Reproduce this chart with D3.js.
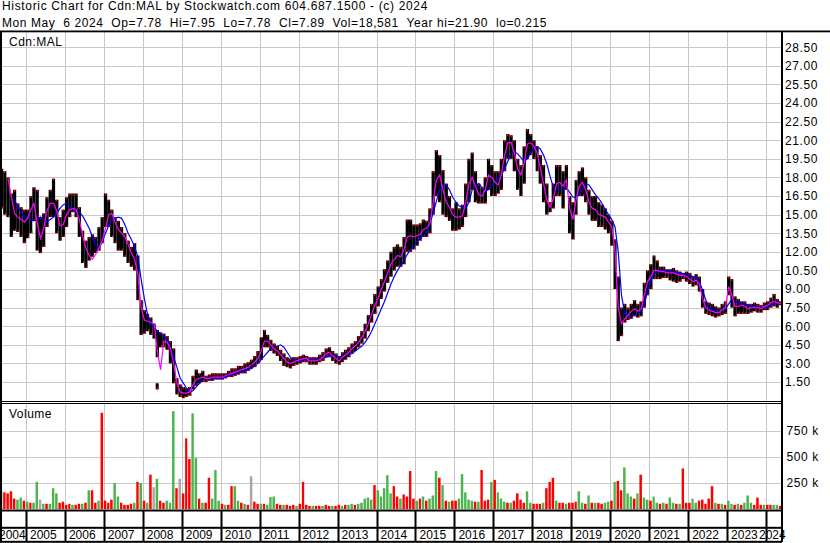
<!DOCTYPE html>
<html><head><meta charset="utf-8">
<script src="https://cdn.jsdelivr.net/npm/d3@7"></script>
<style>
body{margin:0;background:#fff;}
svg{display:block;}
text{font-family:"Liberation Sans",Arial,sans-serif;font-size:12px;fill:#000;}
</style>
</head><body>
<svg id="c" width="830" height="543"></svg>
<script>
// ---------------- DATA (monthly, starting May 2004) ----------------
const firstMonth = "2004-05";
const priceHigh = [
 18.7,18.5,18.0,16.7,17.0,15.9,15.6,15.4,
 15.4,16.5,17.2,17.0,14.8,15.1,16.4,17.0,17.9,16.2,14.8,15.4,
 16.4,16.7,16.7,16.7,15.6,13.7,12.9,13.2,13.4,13.2,14.0,14.8,
 16.7,16.2,15.4,14.8,14.5,14.0,13.5,12.9,12.4,12.7,11.7,8.1,
 7.3,7.0,6.7,6.2,5.7,5.5,5.4,5.2,4.8,4.2,1.8,1.3,
 1.1,1.0,1.1,2.0,2.5,2.2,2.4,2.0,2.1,2.2,2.2,2.2,
 2.2,2.2,2.4,2.6,2.6,2.8,2.8,3.0,3.1,3.3,3.6,4.0,
 5.1,5.7,5.3,4.9,4.6,4.4,4.1,3.8,3.5,3.4,3.5,3.5,
 3.6,3.7,3.6,3.5,3.5,3.5,3.7,3.9,4.2,4.3,4.0,3.8,
 3.6,3.9,4.1,4.3,4.6,4.8,5.2,5.6,6.2,6.9,7.8,8.6,
 9.2,9.8,10.6,11.3,12.0,12.4,12.6,12.4,13.2,14.6,14.6,14.2,
 14.2,14.3,14.6,14.5,15.5,18.5,20.2,19.8,18.6,17.5,16.5,15.5,
 16.0,15.5,15.8,17.5,19.5,20.0,18.5,17.5,17.2,18.0,19.5,19.0,
 18.5,18.5,19.5,21.0,21.5,21.4,21.0,19.5,19.0,20.5,21.9,21.5,
 21.0,20.5,19.8,19.0,17.5,16.0,17.5,19.0,19.0,18.5,19.0,16.5,
 16.0,17.8,18.5,18.8,18.0,17.0,16.5,16.5,16.0,15.8,15.5,15.0,
 14.5,13.0,10.0,7.5,7.8,7.5,7.8,8.1,7.8,8.0,9.5,10.5,
 11.0,11.7,11.3,10.8,10.8,10.6,10.6,10.7,10.5,10.4,10.3,10.4,
 10.3,10.0,10.2,10.0,9.0,8.0,7.9,7.8,7.6,7.5,7.8,8.0,
 10.0,9.8,8.4,8.2,8.0,8.0,7.8,7.8,7.9,7.8,7.7,7.9,
 8.0,8.3,8.6,8.2,8.0
];
const priceLow = [
 15.5,15.0,14.8,13.2,13.7,13.6,13.2,12.7,
 13.1,13.5,14.5,12.1,11.9,12.4,14.0,14.8,14.8,13.5,12.9,13.2,
 14.0,14.8,15.2,14.8,13.2,11.1,10.7,11.3,11.6,11.9,12.1,12.7,
 14.0,14.0,13.2,12.7,12.1,12.1,11.6,11.1,10.8,10.5,8.1,5.3,
 5.4,5.6,5.3,5.0,3.5,4.3,4.3,4.1,3.0,1.4,0.5,0.3,
 0.2,0.3,0.4,0.9,1.2,1.4,1.5,1.5,1.6,1.6,1.7,1.7,
 1.7,1.8,1.9,1.9,2.0,2.1,2.2,2.2,2.4,2.6,2.7,3.0,
 3.3,4.3,4.3,4.0,3.8,3.6,3.2,2.8,2.7,2.6,2.8,2.9,
 3.0,3.1,3.1,2.9,2.9,2.9,3.1,3.2,3.5,3.5,3.2,3.0,
 2.9,3.1,3.3,3.5,3.8,4.0,4.3,4.6,5.0,5.6,6.3,7.0,
 7.6,8.2,8.8,9.5,10.0,10.5,10.8,10.8,11.0,12.0,12.0,12.2,
 12.5,12.9,13.2,13.2,13.5,15.0,16.5,16.0,15.0,14.8,14.5,13.7,
 13.7,13.8,14.0,14.8,16.0,17.0,16.0,15.9,15.9,15.9,17.0,16.5,
 16.5,16.7,17.0,18.5,19.5,19.5,18.5,17.0,16.5,17.5,19.5,19.8,
 19.5,18.5,17.5,16.0,15.0,15.2,15.5,16.5,16.5,15.5,17.0,13.5,
 13.0,15.0,16.5,16.5,16.0,15.0,14.5,14.5,14.0,14.0,13.8,13.5,
 12.5,9.0,4.8,5.2,6.3,6.5,6.6,6.8,6.7,6.8,7.5,8.5,
 9.0,9.8,9.8,9.8,9.9,9.9,9.7,9.6,9.5,9.6,9.8,9.6,
 9.4,9.2,9.3,8.8,7.5,7.0,6.9,6.8,6.7,6.8,6.9,7.0,
 8.5,7.5,6.8,7.0,7.0,7.0,7.0,7.1,7.2,7.1,7.1,7.3,
 7.3,7.5,7.6,7.5,7.7
];
const maFast = [
 null,null,17.9,16.5,15.1,14.8,14.6,14.4,
 14.7,15.4,15.9,14.3,13.1,13.9,15.3,15.9,15.9,15.3,14.1,14.2,
 15.0,15.4,15.5,15.4,14.6,13.3,12.3,11.7,11.4,11.8,12.3,12.9,
 13.9,15.0,15.1,14.4,13.8,13.5,13.2,12.6,11.9,11.4,10.2,7.5,
 6.5,6.4,6.3,6.2,4.0,2.5,4.8,4.7,4.2,3.0,1.4,0.7,
 0.6,0.6,0.7,1.3,1.7,1.8,1.9,1.8,1.8,1.9,1.9,1.9,
 1.9,2.0,2.1,2.2,2.3,2.4,2.5,2.6,2.7,2.9,3.1,3.4,
 4.0,4.8,4.8,4.5,4.2,4.0,3.7,3.4,3.1,3.0,3.1,3.2,
 3.3,3.4,3.4,3.2,3.2,3.2,3.3,3.5,3.8,3.9,3.6,3.4,
 3.2,3.5,3.7,3.9,4.2,4.4,4.7,5.1,5.6,6.2,7.0,7.7,
 8.3,9.0,9.6,10.3,11.0,11.4,11.7,11.6,12.2,13.2,13.3,13.2,
 13.3,13.4,13.8,13.9,14.3,16.0,17.8,18.2,17.0,16.0,15.6,15.0,
 14.8,14.8,14.9,16.0,17.5,18.0,17.3,16.6,16.5,17.0,18.2,18.0,
 17.6,17.4,18.2,19.8,20.8,20.8,20.0,18.7,18.2,19.2,20.7,20.8,
 20.5,20.0,18.8,17.5,16.2,15.6,16.3,17.5,17.6,17.3,17.8,15.5,
 14.6,16.2,17.3,17.6,17.0,16.0,15.5,15.4,15.0,14.9,14.8,14.4,
 14.0,12.0,7.5,6.2,6.6,6.9,7.2,7.4,7.2,7.4,8.5,9.6,
 10.0,10.5,10.5,10.4,10.4,10.3,10.3,10.3,10.2,10.1,10.1,10.0,
 9.8,9.6,9.7,9.4,8.2,7.5,7.3,7.2,7.1,7.1,7.3,7.5,
 9.2,8.5,7.6,7.6,7.7,7.6,7.4,7.5,7.5,7.5,7.4,7.6,
 7.7,7.9,8.0,7.9,7.8
];
const maSlow = [
 null,null,null,null,16.2,15.6,15.2,14.8,
 14.7,14.6,14.5,14.6,14.8,14.6,14.4,14.6,14.8,15.1,15.5,15.8,
 15.9,15.7,15.4,15.3,15.2,14.9,14.4,13.9,13.2,12.5,12.3,12.8,
 13.5,14.1,14.5,14.7,14.8,14.7,14.2,13.5,13.0,12.4,11.6,9.8,
 8.2,6.9,6.2,5.9,5.6,5.4,5.2,4.9,4.3,3.5,2.7,1.8,
 1.4,1.0,0.7,0.8,1.1,1.4,1.7,1.8,1.8,1.8,1.8,1.8,
 1.8,1.9,2.0,2.1,2.2,2.3,2.3,2.4,2.5,2.6,2.8,3.0,
 3.3,3.6,3.9,4.2,4.3,4.4,4.5,4.3,3.9,3.5,3.3,3.2,
 3.2,3.3,3.3,3.3,3.3,3.3,3.3,3.4,3.5,3.6,3.6,3.6,
 3.5,3.5,3.6,3.7,3.8,4.0,4.2,4.4,4.7,5.1,5.6,6.2,
 6.8,7.4,8.0,8.7,9.4,10.0,10.5,10.9,11.3,11.8,12.2,12.5,
 12.9,13.1,13.3,13.5,14.3,15.1,16.1,17.0,17.3,17.4,17.0,16.4,
 16.0,15.7,15.6,15.5,16.0,17.0,17.3,17.5,17.2,16.9,17.0,17.4,
 17.6,17.9,18.2,18.7,19.3,19.9,20.1,19.9,19.6,19.3,19.5,20.0,
 20.3,20.5,20.3,19.8,19.1,18.1,17.2,17.1,17.0,17.1,17.2,16.8,
 16.4,16.4,16.6,17.0,17.5,17.4,17.0,16.6,16.3,15.9,15.4,15.0,
 14.6,14.0,12.0,8.5,7.0,6.8,6.8,6.9,7.0,7.2,7.8,8.8,
 9.7,10.2,10.4,10.5,10.5,10.5,10.4,10.4,10.3,10.3,10.2,10.2,
 10.1,10.0,9.9,9.6,8.9,8.1,7.5,7.3,7.3,7.3,7.3,7.4,
 7.8,8.2,8.1,7.9,7.8,7.8,7.7,7.6,7.6,7.5,7.5,7.5,
 7.6,7.7,7.8,7.8,7.8
];
// isolated bad prints (mid 2008)
const outlierMonth = ["2008-05"];
const outlierHigh = [1.4];
const outlierLow = [0.9];
// volume (thousands of shares) and direction: g = up, r = down, n = unchanged
const volume = [
 180,160,150,170,100,90,110,80,
 70,60,60,260,90,50,50,50,200,150,60,70,
 40,50,40,40,50,50,60,180,180,60,80,925,
 80,60,90,250,120,60,40,40,50,60,260,250,
 80,60,330,210,290,80,60,80,60,940,200,290,
 150,680,480,920,490,100,60,60,300,100,375,80,
 50,40,40,220,220,80,60,50,40,315,70,50,
 50,50,40,115,120,50,40,40,40,30,40,30,
 50,260,40,30,30,30,30,30,40,30,30,30,
 40,30,40,40,50,40,50,60,100,110,90,230,
 180,120,200,325,150,220,120,100,140,120,365,100,
 80,100,120,80,100,130,365,300,230,80,70,80,
 80,100,335,160,90,80,70,70,375,80,90,260,
 280,160,100,70,60,60,80,150,90,60,170,60,
 50,50,50,60,200,260,300,80,60,60,50,60,
 60,70,170,60,50,130,60,60,60,50,60,70,
 80,260,270,180,400,150,120,100,150,330,110,90,
 80,120,60,50,60,50,110,60,50,50,390,60,
 60,100,60,80,90,50,100,220,60,50,50,40,
 80,50,40,50,40,60,130,60,40,110,40,40,
 40,40,40,40,30
];
const volDir = (
 "grrrrggr"+"grggngrggg rr"+"rrgrrgrgrrgr"+"rrrggrrrrgrg"+"rgrngrrgggrn"+"rrrggrgrrggg"+
 "rgrrggrgrnrr"+"grgggrrgrrrg"+"rrrrgrrgrrgr"+"rgrggrggggg r"+"gggggrrgrrrr"+"grgrgggrgrgr"+
 "rgggggrgrrrgr"+"gggrgrrrrggr"+"rrgrrrgrrgrr"+"rggrgrgrrggr"+"grrgggrgrggr"+"ggrgrggrgrrr"+
 "ggrrrrrgrgrg"+"grgrgggrrrgr"+"rggrr").replace(/ /g,"").split("");
const priceTicks = [1.5,3,4.5,6,7.5,9,10.5,12,13.5,15,16.5,18,19.5,21,22.5,24,25.5,27,28.5];
const volTicks = [250000,500000,750000];
const volTickLabels = ["250 k","500 k","750 k"];
const yearLabels = ["2004","2005","2006","2007","2008","2009","2010","2011","2012","2013","2014",
 "2015","2016","2017","2018","2019","2020","2021","2022","2023","2024"];
const header1 = "Historic Chart for Cdn:MAL by Stockwatch.com 604.687.1500 - (c) 2024";
const header2 = "Mon May  6 2024  Op=7.78  Hi=7.95  Lo=7.78  Cl=7.89  Vol=18,581  Year hi=21.90  lo=0.215";
const symbol = "Cdn:MAL";

// ---------------- CHART ----------------
const svg = d3.select("#c");
const parseM = d3.timeParse("%Y-%m");
const start = parseM(firstMonth);
const months = priceHigh.map((d,i)=>d3.timeMonth.offset(start,i));
const x = d3.scaleTime().domain([new Date(2005,0,1), new Date(2024,0,1)]).range([26,766]);
const yP = d3.scaleLinear().domain([0,29.73]).range([400.6,32]);
const yV = d3.scaleLinear().domain([0,1000000]).range([509,405]);
const PL = 2, PR = 781;
const gridC = "#c8c8c8";
const years = yearLabels.map(y=>new Date(+y,0,1));

svg.append("rect").attr("width",830).attr("height",543).attr("fill","#fff");

const defs = svg.append("defs");
defs.append("clipPath").attr("id","cp").append("rect").attr("x",PL).attr("y",32).attr("width",PR-PL).attr("height",369);
defs.append("clipPath").attr("id","cv").append("rect").attr("x",PL).attr("y",404).attr("width",PR-PL).attr("height",105);

// grid - price panel
const gP = svg.append("g");
gP.selectAll("line.h").data(priceTicks).join("line")
  .attr("x1",PL).attr("x2",PR).attr("y1",d=>Math.round(yP(d))+0.5).attr("y2",d=>Math.round(yP(d))+0.5)
  .attr("stroke",gridC);
gP.selectAll("line.v").data(years.slice(1)).join("line")
  .attr("x1",d=>Math.round(x(d))+0.5).attr("x2",d=>Math.round(x(d))+0.5).attr("y1",32).attr("y2",401)
  .attr("stroke",gridC);
// grid - volume panel
const gV = svg.append("g");
gV.selectAll("line.h").data(volTicks).join("line")
  .attr("x1",PL).attr("x2",PR).attr("y1",d=>Math.round(yV(d))+0.5).attr("y2",d=>Math.round(yV(d))+0.5)
  .attr("stroke",gridC);
gV.selectAll("line.v").data(years.slice(1)).join("line")
  .attr("x1",d=>Math.round(x(d))+0.5).attr("x2",d=>Math.round(x(d))+0.5).attr("y1",404).attr("y2",509)
  .attr("stroke",gridC);

// volume bars
const volColor = {g:"#4db34d", r:"#ff0000", n:"#a8a8a8"};
svg.append("g").attr("clip-path","url(#cv)")
  .selectAll("rect").data(volume).join("rect")
  .attr("x",(d,i)=>x(months[i]))
  .attr("width",(d,i)=>Math.max(1,x(d3.timeMonth.offset(months[i],1))-x(months[i])-0.8))
  .attr("y",d=>yV(d*1000))
  .attr("height",d=>yV(0)-yV(d*1000))
  .attr("fill",(d,i)=>volColor[volDir[i]]||"#ff0000");

// price bars
const gBars = svg.append("g").attr("clip-path","url(#cp)");
gBars.selectAll("rect.b").data(priceHigh).join("rect")
  .attr("x",(d,i)=>x(months[i]))
  .attr("width",(d,i)=>x(d3.timeMonth.offset(months[i],1))-x(months[i]))
  .attr("y",d=>yP(d))
  .attr("height",(d,i)=>Math.max(1,yP(priceLow[i])-yP(d)))
  .attr("fill","#000");
// red close ticks at bar ends
gBars.selectAll("rect.t").data(priceHigh).join("rect")
  .attr("x",(d,i)=>x(months[i])+1)
  .attr("width",1.2)
  .attr("y",d=>yP(d))
  .attr("height",2)
  .attr("fill","#ff0000");
gBars.selectAll("rect.l").data(priceLow).join("rect")
  .attr("x",(d,i)=>x(months[i])+2)
  .attr("width",1.2)
  .attr("y",d=>yP(d)-2)
  .attr("height",2)
  .attr("fill","#ff0000");
// outliers
outlierMonth.forEach((m,i)=>{
  const t = parseM(m);
  gBars.append("rect").attr("x",x(t)).attr("width",3).attr("y",yP(outlierHigh[i]))
    .attr("height",yP(outlierLow[i])-yP(outlierHigh[i])).attr("fill","#000");
  gBars.append("rect").attr("x",x(t)+1).attr("width",1.5).attr("y",yP(outlierLow[i])-2)
    .attr("height",2).attr("fill","#ff0000");
});

// moving averages
const cx = i => x(months[i]) + (x(d3.timeMonth.offset(months[i],1))-x(months[i]))/2;
const line = d3.line().defined(d=>d!=null).x((d,i)=>cx(i)).y(d=>yP(d));
gBars.append("path").datum(maSlow).attr("d",line).attr("fill","none").attr("stroke","#0000ff").attr("stroke-width",1.2);
gBars.append("path").datum(maFast).attr("d",line).attr("fill","none").attr("stroke","#ff00ff").attr("stroke-width",1.2);

// frame lines
const fr = svg.append("g").attr("fill","#000");
fr.append("rect").attr("x",0).attr("y",30.5).attr("width",830).attr("height",1.8); // top
fr.append("rect").attr("x",0).attr("y",31).attr("width",2).attr("height",511); // left
fr.append("rect").attr("x",781).attr("y",31).attr("width",2).attr("height",511); // right axis
fr.append("rect").attr("x",0).attr("y",401).attr("width",782).attr("height",1);
fr.append("rect").attr("x",0).attr("y",403).attr("width",782).attr("height",1);
fr.append("rect").attr("x",0).attr("y",509.5).attr("width",782).attr("height",2);
fr.append("rect").attr("x",0).attr("y",526.8).attr("width",782).attr("height",2);
fr.append("rect").attr("x",0).attr("y",540.8).attr("width",782).attr("height",2);
fr.selectAll("rect.d").data(years.slice(1)).join("rect")
  .attr("x",d=>Math.round(x(d))-0.5).attr("y",511).attr("width",2).attr("height",30);

// axis labels
svg.append("g").selectAll("text").data(priceTicks).join("text")
  .attr("x",785).attr("y",d=>yP(d)+4.3).style("letter-spacing","0.6px")
  .text(d=>d3.format(".2f")(d));
svg.append("g").selectAll("text").data(volTicks).join("text")
  .attr("x",786.5).attr("y",d=>yV(d)+4.3).style("letter-spacing","0.6px")
  .text((d,i)=>volTickLabels[i]);
// year labels
svg.append("g").selectAll("text").data(yearLabels).join("text")
  .attr("x",(d,i)=> i===0 ? -1 : (i===yearLabels.length-1 ? 759 : x(years[i])+4))
  .attr("y",539)
  .text(d=>d);

// titles (spread to the reference's measured line widths)
function fitText(sel, target){
  const n = sel.node();
  const len = n.getComputedTextLength();
  const chars = sel.text().length;
  sel.style("letter-spacing", ((target-len)/chars)+"px");
}
const t1 = svg.append("text").attr("x",2).attr("y",9.5).style("white-space","pre").text(header1);
fitText(t1, 426);
const t2 = svg.append("text").attr("x",2).attr("y",27).style("white-space","pre").text(header2);
fitText(t2, 545);
svg.append("text").attr("x",9).attr("y",45.5).style("letter-spacing","0.5px").text(symbol);
svg.append("text").attr("x",9).attr("y",418).style("letter-spacing","0.5px").text("Volume");
</script>
</body></html>
